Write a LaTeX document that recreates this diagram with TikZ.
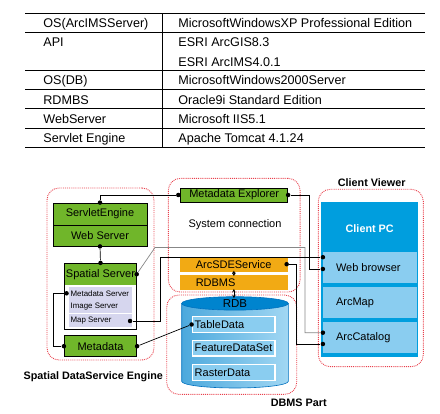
\documentclass[tikz,border=0pt]{standalone}
\usepackage{fontspec}
\setmainfont{Liberation Sans}
\usetikzlibrary{positioning}

\definecolor{grn}{RGB}{112,182,42}
\definecolor{orn}{RGB}{242,170,20}
\definecolor{pcblue}{RGB}{0,158,222}
\definecolor{rowblue}{RGB}{138,205,240}
\definecolor{lav}{RGB}{214,214,238}
\definecolor{dotred}{RGB}{232,64,76}
\definecolor{wiregray}{RGB}{135,135,135}
\definecolor{rdbtop}{RGB}{0,132,206}
\definecolor{rdbedge}{RGB}{0,112,190}

\begin{document}
\begin{tikzpicture}[x=1pt,y=-1pt,line width=0.8pt,
  every node/.style={inner sep=0pt,font=\fontsize{11}{13}\selectfont},
  tabtxt/.style={anchor=base west,font=\fontsize{12.6}{15}\selectfont},
  part/.style={draw=dotred,densely dotted,line width=0.9pt,rounded corners=12pt},
  title/.style={font=\bfseries\fontsize{10.8}{13}\selectfont},
  greenbox/.style={draw=black,fill=grn},
  subrow/.style={fill=lav,minimum width=62.7pt,minimum height=13pt},
  orangebox/.style={fill=orn,minimum width=107.7pt,minimum height=15pt},
  dbrow/.style={fill=rowblue,draw=white,line width=1.5pt,minimum width=82.7pt,minimum height=15.6pt},
  rowbox/.style={fill=rowblue,minimum width=93.4pt,minimum height=31pt},
  pin/.style={circle,fill=black,minimum size=4.5pt},
  wire/.style={line width=0.7pt},
  dbarrow/.style={<->,>=stealth,line width=0.6pt,shorten <=-1.5pt,shorten >=-1.5pt}]
\useasboundingbox (0,0) rectangle (440,414);

% table
\foreach \y in {13.3,32.3,70.7,89.3,108.7,128,147.7}
  \draw (25,\y) -- (425,\y);
\draw (162.3,13.3) -- (162.3,147.7);
\foreach \y/\t [count=\i] in {27.6/OS(ArcIMSServer),47/API,85/OS(DB),104.2/RDMBS,123.4/WebServer,142.8/Servlet Engine}
  \node[tabtxt] (key\i) at (43,\y) {\t};
\foreach \y/\t [count=\i] in {27.6/MicrosoftWindowsXP Professional Edition,47/ESRI ArcGIS8.3,66.2/ESRI ArcIMS4.0.1,85/MicrosoftWindows2000Server,104.2/Oracle9i Standard Edition,123.4/Microsoft IIS5.1,142.8/Apache Tomcat 4.1.24}
  \node[tabtxt] (val\i) at (178,\y) {\t};

% parts
\node[part,minimum width=107pt,minimum height=172pt] (engine) at (100.5,274) {};
\node[part,minimum width=131.7pt,minimum height=113.7pt] (sysconn) at (234.2,235.2) {};
\node[part,minimum width=130pt,minimum height=99.3pt] (dbms) at (231.7,344.7) {};
\node[part,minimum width=105pt,minimum height=177.4pt] (viewer) at (370.8,278) {};
\node[title] (enginelbl) at (93.3,377) {Spatial DataService Engine};
\node[title] (dbmslbl) at (298.8,402.7) {DBMS Part};
\node[title] (viewerlbl) at (371.7,182.3) {Client Viewer};
\node (sysconnlbl) at (235,225) {System connection};

% spatial data service engine
\node[greenbox,minimum width=94pt,minimum height=22pt] (servlet) at (100,214) {ServletEngine};
\node[greenbox,minimum width=94pt,minimum height=21pt] (web) at (100,235.5) {Web Server};
\node[draw,fill=white,minimum width=72.4pt,minimum height=66pt] (spatialbox) at (100.5,296.3) {};
\node[fill=grn,minimum width=71.6pt,minimum height=21pt,anchor=north] (spatial) at ([yshift=-0.4pt]spatialbox.north) {Spatial Server};
\node[subrow,label={[anchor=west,xshift=1.7pt,font=\fontsize{7.9}{9}\selectfont]west:Metadata Server}] (mdsrv) at (100.3,293.3) {};
\node[subrow,label={[anchor=west,xshift=1.7pt,font=\fontsize{7.9}{9}\selectfont]west:Image Server}] (imgsrv) at (100.3,307) {};
\node[subrow,label={[anchor=west,xshift=1.7pt,font=\fontsize{7.9}{9}\selectfont]west:Map Server}] (mapsrv) at (100.3,321) {};
\node[greenbox,minimum width=72.4pt,minimum height=21pt] (meta) at (100.5,346.2) {Metadata};

% system connection
\node[greenbox,minimum width=107pt,minimum height=14pt] (explorer) at (234.2,195) {Metadata Explorer};
\node[orangebox,label={[anchor=west,xshift=15.7pt]west:ArcSDEService}] (arcsde) at (233.9,264.2) {};
\node[orangebox,label={[anchor=west,xshift=15.7pt]west:RDBMS}] (rdbms) at (233.9,282.5) {};

% RDB
\shade[left color=rdbtop!70!white,right color=rowblue!80!white,draw=rdbedge,line width=0.6pt]
  (181.7,303.4) -- (181.7,381.3) arc[start angle=180,end angle=360,x radius=53.3pt,y radius=6.7pt]
  -- (288.3,303.4) -- cycle;
\draw[fill=rdbtop,draw=rdbedge,line width=0.6pt] (235,303.4) ellipse [x radius=53.3pt,y radius=6.7pt];
\node[font=\fontsize{11.5}{13}\selectfont] (rdb) at (235,304) {RDB};
\coordinate (rdbtop) at (233.9,296.7);
\node[dbrow,label={[anchor=west,xshift=2.7pt]west:TableData}] (tabledata) at (233.7,324.5) {};
\node[dbrow,label={[anchor=west,xshift=2.7pt]west:FeatureDataSet}] (featureset) at (233.7,348.2) {};
\node[dbrow,label={[anchor=west,xshift=2.7pt]west:RasterData}] (rasterdata) at (233.7,372.5) {};

% client viewer
\node[fill=pcblue,minimum width=97.3pt,minimum height=155pt] (clientpc) at (369.7,279.2) {};
\node[title,text=white] (clientpclbl) at (369.7,228.3) {Client PC};
\node[rowbox,label={[anchor=west,xshift=12.7pt]west:Web browser}] (browser) at (370,267.2) {};
\node[rowbox,label={[anchor=west,xshift=12.7pt]west:ArcMap}] (arcmap) at (370,302.5) {};
\node[rowbox,label={[anchor=west,xshift=12.7pt]west:ArcCatalog}] (catalog) at (370,337.7) {};

% pins
\node[pin] (servlettop) at (servlet.north) {};
\node[pin] (webbot) at (web.south) {};
\node[pin] (spatialtop) at (spatialbox.north) {};
\node[pin] (spatialr) at (spatial.east) {};
\node[pin] (mdsrvl) at ([xshift=-2pt]mdsrv.west) {};
\node[pin] (mapsrvr) at ([xshift=-2pt]mapsrv.east) {};
\node[pin] (metal) at (meta.west) {};
\node[pin] (metar) at (meta.east) {};
\node[pin] (explorerl) at ([xshift=-2pt]explorer.west) {};
\node[pin] (explorerr) at (explorer.east) {};
\node[pin] (arcsder) at ([xshift=-1.5pt]arcsde.east) {};
\node[pin] (tablel) at (tabledata.west) {};
\node[pin] (browserhi) at ([yshift=10pt]browser.west) {};
\node[pin] (browserlo) at ([yshift=-1.8pt]browser.west) {};
\node[pin] (cataloghi) at ([yshift=5pt]catalog.west) {};
\node[pin] (cataloglo) at ([yshift=-6.3pt]catalog.west) {};

% wires
\draw[wire] (servlettop) |- (explorerl);
\draw[wire] (webbot) -- (spatialtop);
\draw[wire] (explorerr) -- ++(21.6,0) |- (browserlo);
\draw[wire,draw=wiregray] (spatialr) -- ++(18.3,-26.7) -- ++(150,0) |- (cataloghi);
\draw[wire] (mapsrvr) -- ++(30.4,0) |- (browserhi);
\draw[wire] (arcsder) -- ++(9.8,0) |- (cataloglo);
\draw[wire] (mdsrvl) -- ++(-13.7,0) |- (metal);
\draw[wire] (metar) -- (tablel);
\draw[dbarrow] (arcsde.south) -- (rdbms.north);
\draw[dbarrow] (rdbms.south) -- (rdbtop);
\end{tikzpicture}
\end{document}
